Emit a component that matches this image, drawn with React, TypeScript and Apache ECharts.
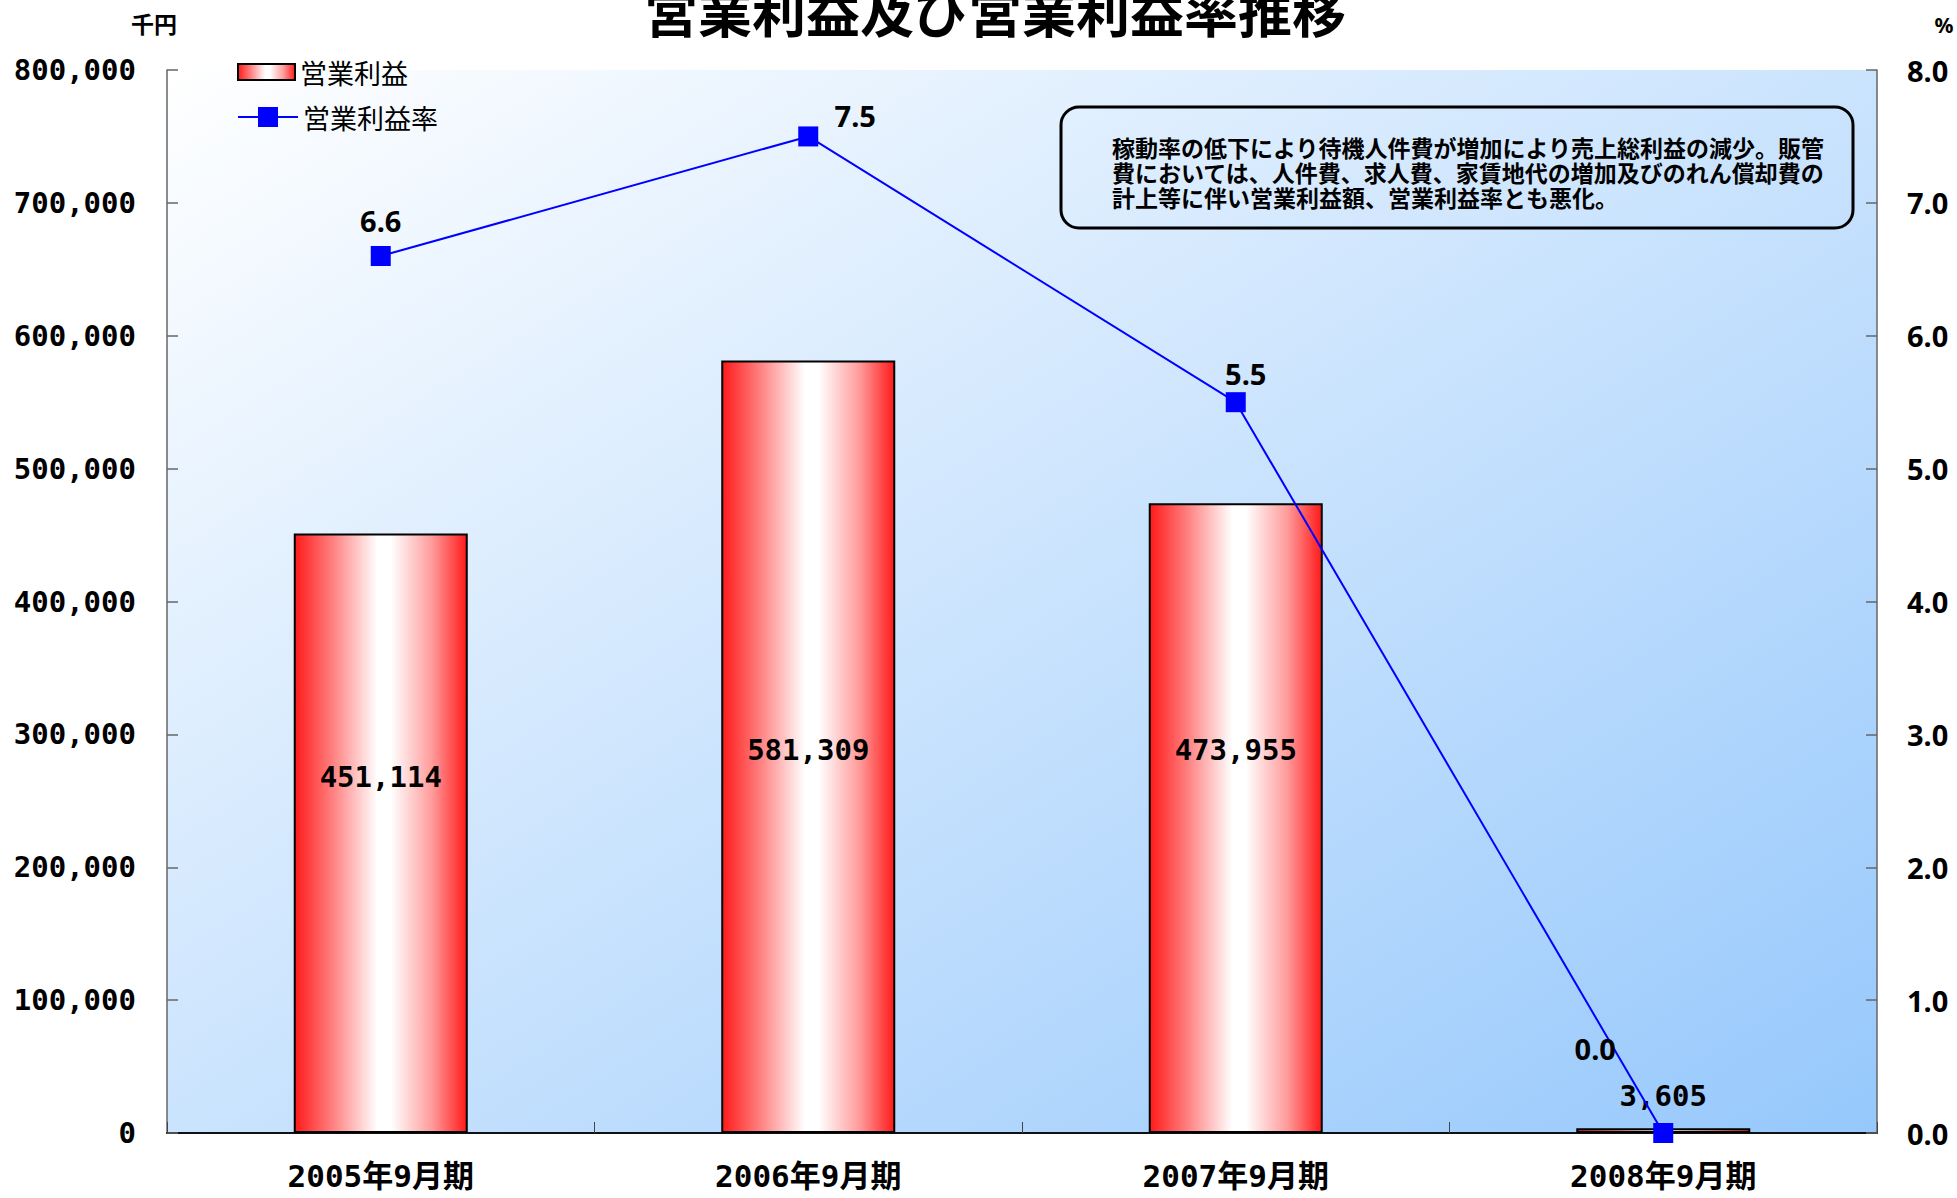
import React, { useEffect, useRef } from "react";
import * as echarts from "echarts";

const TITLE = "営業利益及び営業利益率推移";
const CATEGORIES = ["2005年9月期", "2006年9月期", "2007年9月期", "2008年9月期"];
const OPERATING_PROFIT = [451114, 581309, 473955, 3605];
const OPERATING_MARGIN = [6.6, 7.5, 5.5, 0.0];
const SERIES_NAMES = ["営業利益", "営業利益率"];
const LEFT_UNIT = "千円";
const RIGHT_UNIT = "%";
const NOTE_LINES = [
  "稼動率の低下により待機人件費が増加により売上総利益の減少。販管",
  "費においては、人件費、求人費、家賃地代の増加及びのれん償却費の",
  "計上等に伴い営業利益額、営業利益率とも悪化。",
];

// label placement tweaks (style, not data)
const BAR_LABEL_LAYOUT: any[] = [
  { position: "inside", offset: [0, -56] },
  { position: "inside", offset: [0, 3] },
  { position: "inside", offset: [0, -68] },
  { position: "top", distance: 18 },
];
const LINE_LABEL_OFFSET = [
  [0, 1],
  [47, 16],
  [10, 8],
  [-68, -48],
];

const MONO = "'DejaVu Sans Mono', 'Noto Sans CJK JP', monospace";
const CJK = "'Noto Sans CJK JP', 'Noto Sans', sans-serif";
const SANS = "'Noto Sans', 'Noto Sans CJK JP', sans-serif";

export default function App() {
  const ref = useRef<HTMLDivElement>(null);
  useEffect(() => {
    document.body.style.margin = "0";
    const chart = echarts.init(ref.current!, undefined, { renderer: "svg" });
    const barGradient = new echarts.graphic.LinearGradient(0, 0, 1, 0, [
      { offset: 0, color: "#ff1a1a" },
      { offset: 0.22, color: "#ff8080" },
      { offset: 0.48, color: "#ffffff" },
      { offset: 0.56, color: "#ffffff" },
      { offset: 0.8, color: "#ff9a9a" },
      { offset: 1, color: "#ff1a1a" },
    ]);
    const legendText = {
      fontFamily: CJK,
      fontSize: 27,
      color: "#000",
      lineHeight: 28,
    };
    const noteTexts = NOTE_LINES.map((line, i) => ({
      type: "text",
      x: 1112,
      y: 146.5 + i * 25,
      z: 10,
      style: {
        text: line,
        fontFamily: CJK,
        fontSize: 23,
        fontWeight: "bold",
        fill: "#000",
        align: "left",
        verticalAlign: "middle",
      },
    }));
    const option: any = {
      animation: false,
      backgroundColor: "#ffffff",
      grid: {
        left: 167,
        right: 80,
        top: 70,
        bottom: 65,
        show: true,
        borderWidth: 0,
        backgroundColor: {
          type: "linear",
          x: 0,
          y: 0,
          x2: 1,
          y2: 1,
          colorStops: [
            { offset: 0, color: "#ffffff" },
            { offset: 1, color: "#96c8fc" },
          ],
        },
      },
      legend: [
        {
          orient: "vertical",
          left: 237,
          top: 58,
          padding: 0,
          itemWidth: 57,
          itemHeight: 16,
          data: [{ name: SERIES_NAMES[0], icon: "rect" }],
          textStyle: legendText,
        },
        {
          orient: "vertical",
          left: 237,
          top: 103,
          padding: 0,
          itemWidth: 60,
          itemHeight: 25,
          data: [SERIES_NAMES[1]],
          textStyle: legendText,
        },
      ],
      xAxis: {
        type: "category",
        data: CATEGORIES,
        axisLine: { show: true, lineStyle: { color: "#111", width: 2 } },
        axisTick: { show: true, inside: true, length: 11, lineStyle: { color: "#444", width: 1 } },
        axisLabel: {
          fontFamily: MONO,
          fontSize: 31,
          fontWeight: "bold",
          color: "#000",
          margin: 27,
          lineHeight: 32,
        },
        splitLine: { show: false },
      },
      yAxis: [
        {
          type: "value",
          min: 0,
          max: 800000,
          interval: 100000,
          axisLine: { show: true, lineStyle: { color: "#666", width: 1.5 } },
          axisTick: { show: true, inside: true, length: 11, lineStyle: { color: "#666", width: 1.5 } },
          axisLabel: {
            fontFamily: MONO,
            fontSize: 29,
            fontWeight: "bold",
            color: "#000",
            margin: 31,
            formatter: (v: number) => v.toLocaleString("en-US"),
          },
          splitLine: { show: false },
        },
        {
          type: "value",
          min: 0,
          max: 8,
          interval: 1,
          position: "right",
          axisLine: { show: true, lineStyle: { color: "#666", width: 1.5 } },
          axisTick: { show: true, inside: true, length: 11, lineStyle: { color: "#666", width: 1.5 } },
          axisLabel: {
            fontFamily: SANS,
            fontSize: 29,
            fontWeight: "bold",
            color: "#000",
            margin: 30,
            formatter: (v: number) => v.toFixed(1),
          },
          splitLine: { show: false },
        },
      ],
      series: [
        {
          name: SERIES_NAMES[0],
          type: "bar",
          yAxisIndex: 0,
          barWidth: 174,
          itemStyle: { color: barGradient, borderColor: "#000", borderWidth: 2 },
          label: {
            show: true,
            fontFamily: MONO,
            fontSize: 29,
            fontWeight: "bold",
            color: "#000",
            formatter: (p: any) => Number(p.value).toLocaleString("en-US"),
          },
          data: OPERATING_PROFIT.map((v, i) => ({ value: v, label: BAR_LABEL_LAYOUT[i] })),
          z: 2,
        },
        {
          name: SERIES_NAMES[1],
          type: "line",
          yAxisIndex: 1,
          symbol: "rect",
          symbolSize: 20,
          clip: false,
          lineStyle: { color: "#0000ff", width: 2 },
          itemStyle: { color: "#0000ff" },
          label: {
            show: true,
            position: "top",
            distance: 12,
            fontFamily: SANS,
            fontSize: 29,
            fontWeight: "bold",
            color: "#000",
            formatter: (p: any) => Number(p.value).toFixed(1),
          },
          data: OPERATING_MARGIN.map((v, i) => ({ value: v, label: { offset: LINE_LABEL_OFFSET[i] } })),
          z: 5,
        },
      ],
      graphic: [
        {
          type: "text",
          x: 995,
          y: 9,
          style: {
            text: TITLE,
            fontFamily: CJK,
            fontSize: 54,
            fontWeight: "bold",
            fill: "#000",
            align: "center",
            verticalAlign: "middle",
          },
        },
        {
          type: "text",
          x: 154,
          y: 23,
          style: {
            text: LEFT_UNIT,
            fontFamily: CJK,
            fontSize: 23,
            fontWeight: "bold",
            fill: "#000",
            align: "center",
            verticalAlign: "middle",
          },
        },
        {
          type: "text",
          x: 1944,
          y: 25,
          style: {
            text: RIGHT_UNIT,
            fontFamily: SANS,
            fontSize: 21,
            fontWeight: "bold",
            fill: "#000",
            align: "center",
            verticalAlign: "middle",
          },
        },
        {
          type: "rect",
          shape: { x: 1061, y: 107, width: 792, height: 121, r: 18 },
          style: { fill: "rgba(0,0,0,0)", stroke: "#000", lineWidth: 3 },
          z: 10,
        },
        ...noteTexts,
      ],
    };
    chart.setOption(option);
    return () => chart.dispose();
  }, []);
  return <div ref={ref} style={{ width: 1957, height: 1198 }} />;
}
